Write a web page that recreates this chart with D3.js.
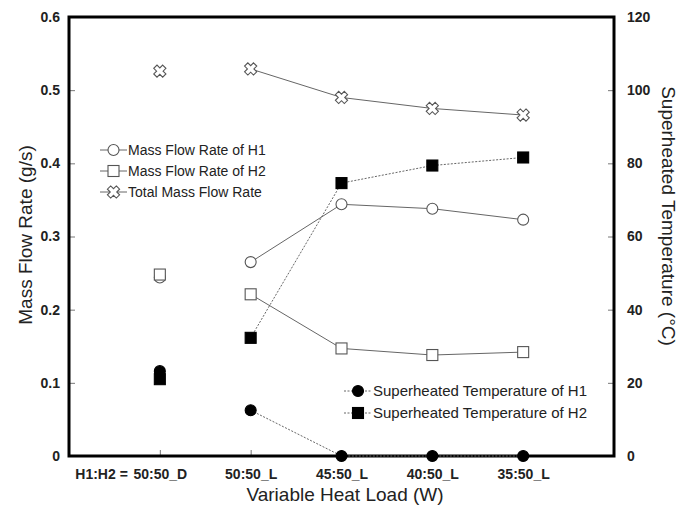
<!DOCTYPE html>
<html>
<head>
<meta charset="utf-8">
<script src="https://cdn.jsdelivr.net/npm/d3@7"></script>
<style>
body { margin: 0; background: #fff; }
svg text { font-family: "Liberation Sans", Arial, sans-serif; }
</style>
</head>
<body>
<svg id="chart" width="690" height="508"></svg>
<script>
// data
const categories = ["50:50_D", "50:50_L", "45:50_L", "40:50_L", "35:50_L"];
const flowH1 = [0.244, 0.265, 0.344, 0.338, 0.323];
const flowH2 = [0.248, 0.221, 0.147, 0.138, 0.142];
const flowTotal = [0.526, 0.529, 0.490, 0.475, 0.466];
const tempH1 = [23.2, 12.5, 0, 0, 0];
const tempH2 = [21.0, 32.3, 74.6, 79.4, 81.6];
const leftTicks = [0, 0.1, 0.2, 0.3, 0.4, 0.5, 0.6];
const rightTicks = [0, 20, 40, 60, 80, 100, 120];

const svg = d3.select("#chart");
const m = { left: 69, right: 614, top: 17, bottom: 456 };

const x = d3.scaleLinear().domain([0, 6]).range([m.left, m.right]);
const yL = d3.scaleLinear().domain([0, 0.6]).range([m.bottom, m.top]);
const yR = d3.scaleLinear().domain([0, 120]).range([m.bottom, m.top]);

// axes (ticks pointing inward)
const leftAxis = d3.axisLeft(yL).tickValues(leftTicks).tickSize(-6).tickPadding(9)
    .tickFormat(d => d === 0 ? "0" : d3.format(".1f")(d));
svg.append("g").attr("transform", `translate(${m.left},0)`).call(leftAxis);

const rightAxis = d3.axisRight(yR).tickValues(rightTicks).tickSize(-6).tickPadding(13);
svg.append("g").attr("transform", `translate(${m.right},0)`).call(rightAxis);

const bottomAxis = d3.axisBottom(x).tickValues([1, 2, 3, 4, 5]).tickSize(-6).tickPadding(13)
    .tickFormat(d => categories[d - 1]);
svg.append("g").attr("transform", `translate(0,${m.bottom})`).call(bottomAxis);

svg.selectAll(".domain").remove();
svg.selectAll(".tick line").attr("stroke", "#777").attr("stroke-width", 1);
svg.selectAll(".tick text").attr("font-size", 14).attr("font-weight", "bold")
    .attr("font-family", "Liberation Sans, Arial, sans-serif").attr("fill", "#222");

svg.append("text").attr("x", x(1) - 32).attr("y", m.bottom + 23)
    .attr("text-anchor", "end").attr("font-size", 14).attr("font-weight", "bold")
    .attr("fill", "#222").text("H1:H2 =");

// frame
svg.append("rect").attr("x", m.left).attr("y", m.top)
    .attr("width", m.right - m.left).attr("height", m.bottom - m.top)
    .attr("fill", "none").attr("stroke", "#000").attr("stroke-width", 3);

// titles
svg.append("text").attr("x", 345).attr("y", 501)
    .attr("text-anchor", "middle").attr("font-size", 19).attr("fill", "#222")
    .text("Variable Heat Load (W)");
svg.append("text").attr("transform", "translate(32,235) rotate(-90)")
    .attr("text-anchor", "middle").attr("font-size", 19).attr("fill", "#222")
    .text("Mass Flow Rate (g/s)");
svg.append("text").attr("transform", "translate(662,216) rotate(90)")
    .attr("text-anchor", "middle").attr("font-size", 19).attr("fill", "#222")
    .text("Superheated Temperature (°C)");

// marker helpers
const crossPath = (() => {
    const a = 6.3, w = 2.3;
    const p = d3.path();
    // plus outline, rotated 45 via transform
    p.moveTo(-w, -a); p.lineTo(w, -a); p.lineTo(w, -w); p.lineTo(a, -w); p.lineTo(a, w);
    p.lineTo(w, w); p.lineTo(w, a); p.lineTo(-w, a); p.lineTo(-w, w); p.lineTo(-a, w);
    p.lineTo(-a, -w); p.lineTo(-w, -w); p.closePath();
    return p.toString();
})();

function marker(g, kind, cx, cy) {
    if (kind === "circleOpen" || kind === "circleFill") {
        g.append("circle").attr("cx", cx).attr("cy", cy).attr("r", 5.5)
            .attr("fill", kind === "circleFill" ? "#000" : "#fff")
            .attr("stroke", kind === "circleFill" ? "#000" : "#555").attr("stroke-width", 1.1);
    } else if (kind === "squareOpen" || kind === "squareFill") {
        g.append("rect").attr("x", cx - 5.5).attr("y", cy - 5.5).attr("width", 11).attr("height", 11)
            .attr("fill", kind === "squareFill" ? "#000" : "#fff")
            .attr("stroke", kind === "squareFill" ? "#000" : "#555").attr("stroke-width", 1.1);
    } else {
        g.append("path").attr("d", crossPath)
            .attr("transform", `translate(${cx},${cy}) rotate(45)`)
            .attr("fill", "#fff").attr("stroke", "#555").attr("stroke-width", 1.1);
    }
}

const series = [
    { vals: flowH1, y: yL, kind: "circleOpen", dash: null, name: "Mass Flow Rate of H1" },
    { vals: flowH2, y: yL, kind: "squareOpen", dash: null, name: "Mass Flow Rate of H2" },
    { vals: flowTotal, y: yL, kind: "cross", dash: null, name: "Total Mass Flow Rate" },
    { vals: tempH1, y: yR, kind: "circleFill", dash: "2,1.5", name: "Superheated Temperature of H1" },
    { vals: tempH2, y: yR, kind: "squareFill", dash: "2,1.5", name: "Superheated Temperature of H2" }
];

const line = (s) => d3.line().x((d, i) => x(i + 2)).y(d => s.y(d));

const plot = svg.append("g");
series.forEach(s => {
    // the 50:50_D point stands alone; the other four are joined
    plot.append("path").datum(s.vals.slice(1)).attr("d", line(s))
        .attr("fill", "none").attr("stroke", "#666").attr("stroke-width", 1)
        .attr("stroke-dasharray", s.dash);
});
// draw markers after lines; H2 square on top of H1 circle at the D point
[3, 4, 0, 1, 2].forEach(k => {
    const s = series[k];
    s.vals.forEach((v, i) => marker(plot, s.kind, x(i + 1), s.y(v)));
});

// legends
function legend(items, x0, x1, tx, ys, fs) {
    items.forEach((s, i) => {
        const g = svg.append("g");
        g.append("line").attr("x1", x0).attr("x2", x1).attr("y1", ys[i]).attr("y2", ys[i])
            .attr("stroke", "#666").attr("stroke-width", 1).attr("stroke-dasharray", s.dash);
        marker(g, s.kind, (x0 + x1) / 2, ys[i]);
        g.append("text").attr("x", tx).attr("y", ys[i] + 5).attr("font-size", fs)
            .attr("fill", "#222").text(s.name);
    });
}
legend(series.slice(0, 3), 100, 127, 128, [150, 171, 192], 14);
legend(series.slice(3), 344, 372, 373, [391, 413], 15);
</script>
</body>
</html>
